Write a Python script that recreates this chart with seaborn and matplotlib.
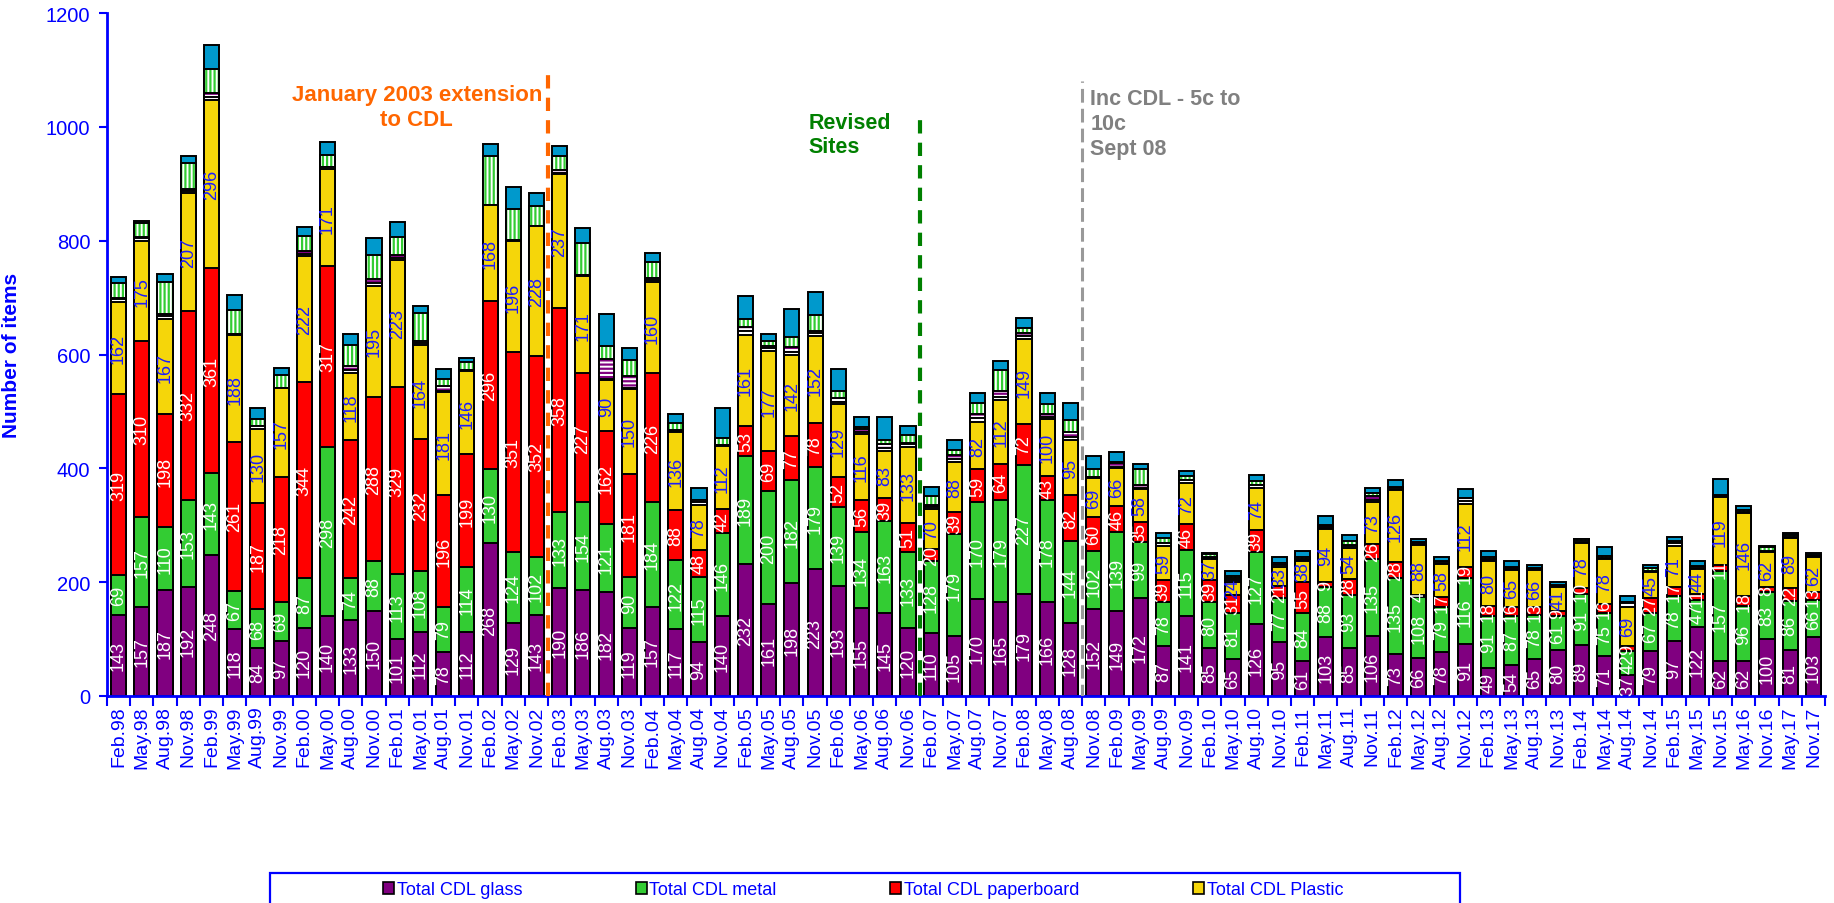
import numpy as np
import matplotlib
matplotlib.use("Agg")
import matplotlib.pyplot as plt
import seaborn as sns
from matplotlib import font_manager as fm
from matplotlib.patches import Patch, Rectangle

# ---------------- data ----------------
periods = ["Feb.98", "May.98", "Aug.98", "Nov.98", "Feb.99", "May.99", "Aug.99", "Nov.99",
           "Feb.00", "May.00", "Aug.00", "Nov.00", "Feb.01", "May.01", "Aug.01", "Nov.01",
           "Feb.02", "May.02", "Nov.02", "Feb.03", "May.03", "Aug.03", "Nov.03", "Feb.04",
           "May.04", "Aug.04", "Nov.04", "Feb.05", "May.05", "Aug.05", "Nov.05", "Feb.06",
           "May.06", "Aug.06", "Nov.06", "Feb.07", "May.07", "Aug.07", "Nov.07", "Feb.08",
           "May.08", "Aug.08", "Nov.08", "Feb.09", "May.09", "Aug.09", "Nov.09", "Feb.10",
           "May.10", "Aug.10", "Nov.10", "Feb.11", "May.11", "Aug.11", "Nov.11", "Feb.12",
           "May.12", "Aug.12", "Nov.12", "Feb.13", "May.13", "Aug.13", "Nov.13", "Feb.14",
           "May.14", "Aug.14", "Nov.14", "Feb.15", "May.15", "Nov.15", "May.16", "Nov.16",
           "May.17", "Nov.17"]

glass = [143, 157, 187, 192, 248, 118, 84, 97, 120, 140, 133, 150, 101, 112, 78, 112,
         268, 129, 143, 190, 186, 182, 119, 157, 117, 94, 140, 232, 161, 198, 223, 193,
         155, 145, 120, 110, 105, 170, 165, 179, 166, 128, 152, 149, 172, 87, 141, 85,
         65, 126, 95, 61, 103, 85, 106, 73, 66, 78, 91, 49, 54, 65, 80, 89,
         71, 37, 79, 97, 122, 62, 62, 100, 81, 103]
metal = [69, 157, 110, 153, 143, 67, 68, 69, 87, 298, 74, 88, 113, 108, 79, 114,
         130, 124, 102, 133, 154, 121, 90, 184, 122, 115, 146, 189, 200, 182, 179, 139,
         134, 163, 133, 128, 179, 170, 179, 227, 178, 144, 102, 139, 99, 78, 115, 80,
         81, 127, 77, 84, 88, 93, 135, 135, 108, 79, 116, 91, 87, 78, 61, 91,
         75, 42, 67, 78, 47, 157, 96, 83, 86, 66]
paperboard = [319, 310, 198, 332, 361, 261, 187, 218, 344, 317, 242, 288, 329, 232, 196, 199,
              296, 351, 352, 358, 227, 162, 181, 226, 88, 48, 42, 53, 69, 77, 78, 52,
              56, 39, 51, 20, 39, 59, 64, 72, 43, 82, 60, 46, 35, 39, 46, 39,
              31, 39, 21, 55, 9, 28, 26, 28, 4, 17, 19, 18, 16, 13, 9, 10,
              16, 9, 27, 17, 11, 11, 18, 8, 22, 13]
plastic = [162, 175, 167, 207, 296, 188, 130, 157, 222, 171, 118, 195, 223, 164, 181, 146,
           168, 196, 228, 237, 171, 90, 150, 160, 136, 78, 112, 161, 177, 142, 152, 129,
           116, 83, 133, 70, 88, 82, 112, 149, 100, 95, 69, 66, 58, 59, 72, 37,
           24, 74, 33, 38, 94, 54, 73, 126, 88, 58, 112, 80, 65, 66, 41, 78,
           78, 69, 45, 71, 44, 119, 146, 62, 89, 62]
other_white = [5, 6, 5, 4, 5, 2, 6, 1, 4, 3, 6, 5, 4, 4, 2, 1,
               1, 1, 1, 1, 1, 2, 2, 4, 3, 6, 1, 6, 4, 5, 5, 4,
               2, 5, 6, 4, 6, 7, 5, 5, 4, 6, 2, 3, 2, 6, 5, 2,
               3, 5, 4, 0, 1, 4, 4, 0, 0, 0, 4, 0, 0, 0, 0, 0,
               0, 6, 0, 5, 0, 0, 0, 0, 0, 0]
other_purple = [1, 2, 5, 3, 6, 0, 0, 0, 4, 0, 7, 7, 4, 4, 9, 0,
                0, 0, 0, 6, 0, 35, 21, 4, 2, 4, 0, 7, 4, 9, 5, 6,
                6, 7, 2, 4, 7, 7, 10, 5, 4, 8, 0, 6, 5, 0, 0, 2,
                3, 0, 4, 2, 3, 2, 8, 3, 2, 3, 5, 3, 3, 2, 2, 4,
                3, 2, 2, 2, 3, 2, 2, 1, 2, 2]
other_green = [26, 24, 55, 46, 43, 43, 12, 22, 28, 22, 36, 41, 33, 49, 12, 14,
               86, 54, 35, 24, 57, 23, 28, 28, 12, 0, 13, 15, 9, 17, 27, 12,
               3, 8, 13, 15, 9, 19, 37, 9, 18, 22, 14, 3, 27, 8, 8, 4,
               4, 6, 0, 5, 3, 7, 4, 3, 2, 3, 0, 3, 2, 1, 2, 3,
               3, 1, 5, 2, 2, 2, 2, 8, 3, 2]
other_blue = [11, 4, 14, 12, 41, 26, 19, 13, 15, 23, 20, 30, 26, 13, 18, 8,
              20, 39, 23, 17, 26, 57, 21, 15, 16, 21, 52, 39, 12, 50, 40, 39,
              19, 40, 17, 17, 16, 19, 16, 19, 20, 29, 22, 17, 9, 9, 9, 3,
              8, 12, 10, 9, 15, 10, 10, 11, 5, 7, 17, 10, 10, 5, 5, 0,
              15, 9, 6, 7, 8, 28, 7, 2, 4, 4]

legend_labels = ["Total CDL glass", "Total CDL metal", "Total CDL paperboard", "Total CDL Plastic"]

# ---------------- style ----------------
sns.set_theme(style="white")


def has_font(name):
    try:
        fm.findfont(fm.FontProperties(family=name), fallback_to_default=False)
        return True
    except Exception:
        return False


base_font = "Liberation Sans" if has_font("Liberation Sans") else "DejaVu Sans"
narrow_font = "Liberation Sans Narrow" if has_font("Liberation Sans Narrow") else base_font
plt.rcParams["font.family"] = [base_font, "DejaVu Sans"]
plt.rcParams["hatch.linewidth"] = 1.6

C_GLASS = "#800080"
C_METAL = "#33CC33"
C_PAPER = "#FF0000"
C_PLASTIC = "#F5D60A"
C_BLUE = "#0099CC"
AXIS_BLUE = "#0000FF"

W, H = 1834, 904
fig = plt.figure(figsize=(W / 100, H / 100), dpi=100)
fig.patch.set_facecolor("white")
ax = fig.add_axes([107 / W, 1 - 697 / H, (1825 - 107) / W, (697 - 14) / H])

series = [
    ("glass", glass, dict(color=C_GLASS)),
    ("metal", metal, dict(color=C_METAL)),
    ("paper", paperboard, dict(color=C_PAPER)),
    ("plastic", plastic, dict(color=C_PLASTIC)),
    ("white", other_white, dict(color="white")),
    ("purple", other_purple, dict(color="white", hatch="----", hatch_edge="#800080")),
    ("green", other_green, dict(color="white", hatch="||||", hatch_edge=C_METAL)),
    ("blue", other_blue, dict(color=C_BLUE)),
]

arrs = [np.array(s[1], dtype=float) for s in series]
cums = np.cumsum(np.vstack(arrs), axis=0)
BAR_W = 0.65
EDGE_LW = 1.4

# draw from the top of the stack downwards so that lower segments cover upper ones
for k in range(len(series) - 1, -1, -1):
    name, vals, st = series[k]
    top = cums[k]
    if "hatch" in st:
        sns.barplot(x=periods, y=top, order=periods, color="white", saturation=1,
                    width=BAR_W, hatch=st["hatch"], edgecolor=st["hatch_edge"],
                    linewidth=0, ax=ax)
        sns.barplot(x=periods, y=top, order=periods, color="black", fill=False,
                    saturation=1, width=BAR_W, linewidth=EDGE_LW, ax=ax)
    else:
        sns.barplot(x=periods, y=top, order=periods, color=st["color"], saturation=1,
                    width=BAR_W, edgecolor="black", linewidth=EDGE_LW, ax=ax)

# data labels for the four main series
label_styles = [("white", 0), ("white", 1), ("white", 2), ("#1a1aff", 3)]
for col, k in label_styles:
    vals = arrs[k]
    bottoms = cums[k] - vals
    for i, v in enumerate(vals):
        ax.text(i, bottoms[i] + v / 2, f"{int(v)}", rotation=90, ha="center", va="center",
                color=col, fontsize=13, family=[narrow_font, "DejaVu Sans"])

n = len(periods)
ax.set_xlim(-0.5, n - 0.5)
ax.set_ylim(0, 1200)
ax.set_yticks(np.arange(0, 1201, 200))
ax.set_xticks(np.arange(n + 1) - 0.5)
ax.set_xticklabels([""] * (n + 1))
ax.set_xticks(np.arange(n), minor=True)
ax.set_xticklabels(periods, minor=True, rotation=90)
ax.tick_params(axis="x", which="major", length=7, width=1.5, color=AXIS_BLUE, direction="out",
               bottom=True)
ax.tick_params(axis="x", which="minor", length=0, labelsize=14, labelcolor=AXIS_BLUE, pad=7)
ax.tick_params(axis="y", which="major", length=6, width=1.5, color=AXIS_BLUE, direction="out",
               left=True, labelsize=14.5, labelcolor=AXIS_BLUE, pad=6)
ax.set_xlabel("")
ax.set_ylabel("Number of items", fontsize=15, fontweight="bold", color=AXIS_BLUE)
ax.yaxis.set_label_coords(-86 / (1825 - 107), 0.5)
for side in ("top", "right"):
    ax.spines[side].set_visible(False)
for side in ("left", "bottom"):
    ax.spines[side].set_color(AXIS_BLUE)
    ax.spines[side].set_linewidth(2)
ax.grid(False)

# event markers
ax.plot([18.5, 18.5], [0, 1098], color="#FF6600", lw=3, dashes=(3.2, 2.2), zorder=5)
ax.plot([34.5, 34.5], [0, 1018], color="#008000", lw=3, dashes=(3.2, 2.2), zorder=5)
ax.plot([41.5, 41.5], [-3, 1081], color="#999999", lw=2.2, dashes=(4.5, 2.0), zorder=5)

ax.text(12.84, 1035, "January 2003 extension\nto CDL", ha="center", va="center",
        color="#FF6600", fontsize=16, fontweight="bold", linespacing=1.2)
ax.text(29.7, 987, "Revised\nSites", ha="left", va="center",
        color="#008000", fontsize=15.5, fontweight="bold", linespacing=1.2)
ax.text(41.85, 1006, "Inc CDL - 5c to\n10c\nSept 08", ha="left", va="center",
        color="#808080", fontsize=15.5, fontweight="bold", linespacing=1.25)

# legend (box runs off the bottom of the image as in the reference)
fig.add_artist(Rectangle((270 / W, -0.2), 1190 / W, (1 - 874 / H) + 0.2,
                         transform=fig.transFigure, fill=False, edgecolor=AXIS_BLUE, lw=1.6))
handles = [Patch(facecolor=c, edgecolor="black", lw=1.2)
           for c in (C_GLASS, C_METAL, C_PAPER, C_PLASTIC)]
fig.legend(handles, legend_labels, loc="center left", bbox_to_anchor=(383 / W, 1 - 891 / H),
           ncol=4, frameon=False, handlelength=0.6, handleheight=0.6, handletextpad=0.15,
           columnspacing=6.3, borderaxespad=0, borderpad=0, prop={"size": 13},
           labelcolor=AXIS_BLUE)

fig.savefig("out.png", dpi=100)
